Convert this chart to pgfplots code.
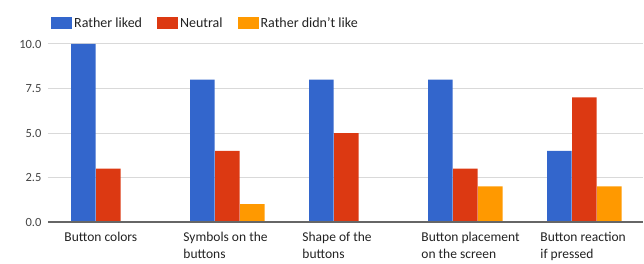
\documentclass[border=0pt]{standalone}
\usepackage{fontspec}
\setmainfont{Carlito}
\usepackage{pgfplots}
\pgfplotsset{compat=1.18}
\definecolor{gblue}{HTML}{3366CC}
\definecolor{gred}{HTML}{DC3912}
\definecolor{gorange}{HTML}{FF9900}
\definecolor{gtext}{HTML}{222222}
\definecolor{gtick}{HTML}{444444}
\pgfplotsset{gleg/.style={legend image code/.code={\fill[##1] (0bp,-6bp) rectangle (21bp,6bp);}}}
\begin{document}
\begin{tikzpicture}
\begin{axis}[
  scale only axis, width=595bp, height=178bp,
  xmin=-0.508, xmax=4.492, ymin=0, ymax=10,
  ybar=0.5bp, bar width=24.5bp,
  axis line style={draw=none}, tick style={draw=none},
  xtick={0,1,2,3,4},
  xticklabels={{Button colors},{Symbols on the\\buttons},{Shape of the\\buttons},{Button placement\\on the screen},{Button reaction\\if pressed}},
  xticklabel style={text width=104bp, align=flush left, anchor=north, text=gtext,
    font=\fontsize{13.5bp}{17bp}\selectfont, yshift=-2bp, xshift=8bp},
  ytick={0,2.5,5,7.5,10},
  yticklabels={0.0,2.5,5.0,7.5,10.0},
  yticklabel style={text=gtick, font=\fontsize{12.5bp}{14bp}\selectfont, xshift=-3bp},
  /pgf/number format/assume math mode=true,
  ymajorgrids, grid style={color=black!15, line width=1bp},
  legend columns=-1,
  legend style={at={(axis description cs:0,1)}, anchor=south west, xshift=0bp, yshift=11bp,
    draw=none, fill=none, font=\fontsize{14bp}{16bp}\selectfont, text=gtext,
    /tikz/every even column/.append style={column sep=13bp}},
]
\addplot[fill=gblue, draw=none, gleg] coordinates {(0,10) (1,8) (2,8) (3,8) (4,4)};
\addplot[fill=gred, draw=none, gleg] coordinates {(0,3) (1,4) (2,5) (3,3) (4,7)};
\addplot[fill=gorange, draw=none, gleg] coordinates {(0,0) (1,1) (2,0) (3,2) (4,2)};
\legend{Rather liked, Neutral, Rather didn't like}
\draw[color=black!60, line width=1.2bp] (axis cs:-0.508,0) -- (axis cs:4.492,0);
\end{axis}
\pgfresetboundingbox
\path[use as bounding box] (-48bp,-42bp) rectangle (596bp,222bp);
\end{tikzpicture}
\end{document}
